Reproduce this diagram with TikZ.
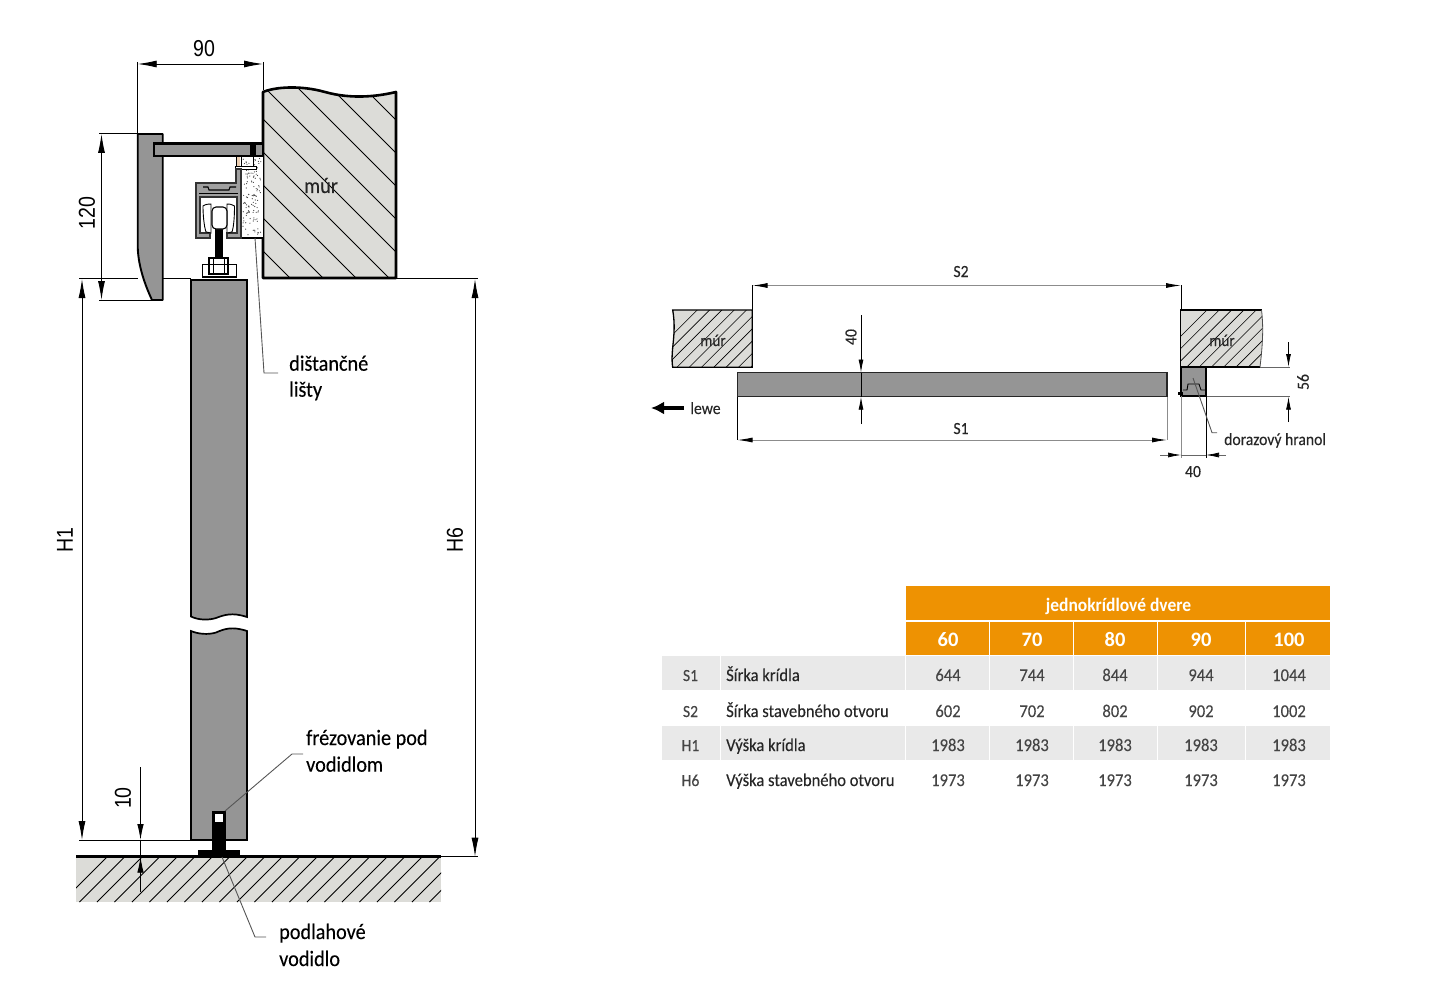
\documentclass[tikz,border=0pt]{standalone}
\usepackage{fontspec}
\setmainfont[FakeStretch=0.92]{Carlito}
\newfontfamily\lblfont[FakeStretch=0.92,FakeBold=0.2]{Carlito}
\newfontfamily\headfont{Carlito}
\newfontfamily\dimfont[FakeStretch=0.85]{Liberation Sans}
\usetikzlibrary{arrows.meta}
\definecolor{wall1}{HTML}{DCDCD8}
\definecolor{door1}{HTML}{959595}
\definecolor{orange1}{HTML}{EE9202}
\definecolor{row1}{HTML}{E9E9E9}
\definecolor{lead1}{HTML}{555555}
\definecolor{val1}{HTML}{454545}

\begin{document}
\begin{tikzpicture}[
    x=1pt, y=-1pt,
    dimline/.style={black, line width=0.9pt, {Latex[length=19pt,width=7pt]}-{Latex[length=19pt,width=7pt]}},
    dimone/.style={black, line width=0.9pt, -{Latex[length=16pt,width=6.5pt]}},
    extline/.style={black, line width=0.8pt},
    leadline/.style={lead1, line width=0.9pt},
    part/.style={draw=black, fill=door1, line width=1.9pt},
    lbl/.style={inner sep=0pt, anchor=base west, font=\lblfont\fontsize{22}{24}\selectfont, text=black},
    lblsmall/.style={inner sep=0pt, anchor=base, font=\lblfont\fontsize{17}{20}\selectfont, text=black!85},
    dimnum/.style={inner sep=0pt, font=\dimfont\fontsize{23}{24}\selectfont, text=black},
    headcell/.style={inner sep=0pt, anchor=base, font=\headfont\bfseries\fontsize{20.5}{22}\selectfont, text=white},
    valcell/.style={inner sep=0pt, anchor=base, font=\lblfont\fontsize{18}{20}\selectfont, text=val1},
    namecell/.style={inner sep=0pt, anchor=base west, font=\lblfont\fontsize{18}{20}\selectfont, text=black!85},
]
\useasboundingbox (0,0) rectangle (1439,995);

% wall, side view
\begin{scope}
\clip (263,92) .. controls (275,87) and (300,85) .. (325,92) .. controls (350,99) and (375,97) .. (396,92) -- (396,278) -- (263,278) -- cycle;
\fill[wall1] (250,80) rectangle (400,280);
\foreach \c in {-276,-243,-210,-177,-144,-111,-78,-45,-12}
    \draw[line width=0.9pt] (263,263+\c) -- (396,396+\c);
\end{scope}
\draw[line width=2.6pt, line join=round] (263,92) .. controls (275,87) and (300,85) .. (325,92) .. controls (350,99) and (375,97) .. (396,92) -- (396,278) -- (263,278) -- cycle;
\node[inner sep=0pt, anchor=base, font=\lblfont\fontsize{22}{24}\selectfont, text=black!85] (wallside) at (321,193) {múr};

% spacer strips
\fill[white] (241,156) rectangle (263,238);
\pgfmathsetseed{11}
\foreach \i in {1,...,120} {
    \pgfmathsetmacro\dotx{243+18*rnd}
    \pgfmathsetmacro\doty{158+78*rnd}
    \fill[black!75] (\dotx,\doty) circle (0.6);
}
\draw[line width=1.4pt] (241,238) -- (263,238);

% handle cover and bracket
\draw[part, line join=round] (137.7,134) -- (162.7,134) -- (162.7,300) -- (152,300) .. controls (145,285) and (137.7,265) .. (137.7,245) -- cycle;
\draw[part, line width=2.5pt] (154,143.5) rectangle (263,156);
\fill (250,142) rectangle (256,156);

% screw under bracket
\fill[black!25!orange!30] (237,157) rectangle (240,166);
\draw[line width=0.8pt] (236.5,157) -- (236.5,166) (241,157) -- (241,166);
\draw[line width=0.8pt, fill=white] (235,166) -- (256,166) -- (256,169) -- (235,169) -- cycle;
\draw[line width=0.8pt] (253,157) -- (253,166);

% rail
\draw[draw=black!80, fill=door1!90, line width=1.2pt] (196,183) -- (236,183) -- (236,169) -- (241,169) -- (241,238) -- (227,238) -- (227,233) -- (237,233) -- (237,197) -- (200,197) -- (200,233) -- (210,233) -- (210,238) -- (196,238) -- cycle;
\draw[line width=1.1pt] (203,187) -- (208,187) -- (209,190) -- (229,190) -- (230,187) -- (236,187);
\draw[line width=1.1pt] (199,193.5) -- (238,193.5);

% wheels
\draw[fill=white, line width=0.9pt] (203,206) .. controls (206,204) and (209,204) .. (211,204) -- (211,233) -- (206,232) .. controls (204,226) and (203,215) .. cycle;
\draw[fill=white, line width=0.9pt] (234.5,206) .. controls (231,204) and (229,204) .. (227,204) -- (227,233) -- (232,232) .. controls (234,226) and (234.5,215) .. cycle;
\fill (215,229) rectangle (223,259);
\draw[fill=white, line width=1.1pt, rounded corners=4pt] (212,207) rectangle (227,229);

% hanger bolt
\draw[line width=1.2pt] (209,258) rectangle (228,274);
\draw[line width=1.4pt] (202.5,264.5) rectangle (236.5,277);
\draw[line width=1pt] (213,258) -- (213,274) (224,258) -- (224,274);

% door, side view
\draw[part, line width=1.7pt] (191,280) -- (191,616.5) .. controls (198,620) and (208,620.5) .. (216,618) .. controls (224,615) and (232,612) .. (247,617) -- (247,280) -- cycle;
\draw[part, line width=1.7pt] (191,840) -- (191,631) .. controls (198,634) and (208,635) .. (216,632.5) .. controls (224,629) and (232,626) .. (247,631) -- (247,840) -- cycle;
\draw[line width=2.2pt] (190,840) -- (248,840);

% floor
\begin{scope}
\clip (76,857) rectangle (441,902);
\fill[wall1] (76,857) rectangle (441,902);
\foreach \c in {0,...,24}
    \draw[line width=0.8pt] (62+17.5*\c,902) -- (107+17.5*\c,857);
\end{scope}
\draw[line width=3.5pt] (76,856.7) -- (441,856.7);

% floor guide
\fill (212.3,811) rectangle (225.7,857);
\fill (198,850) rectangle (240,857);
\fill[white] (215,814) rectangle (223,822);

% dimensions, side view
\coordinate (d90a) at (137.7,64);
\coordinate (d90b) at (263,64);
\draw[extline] (137.7,62) -- (137.7,134) (263,62) -- (263,90);
\draw[dimline] (d90a) -- (d90b);
\node[dimnum] (n90) at (204,49) {90};

\coordinate (d120a) at (101.5,134);
\coordinate (d120b) at (101.5,300);
\draw[extline] (99,133.7) -- (138,133.7) (99,300) -- (152,300);
\draw[dimline] (d120a) -- (d120b);
\node[dimnum, rotate=90] (n120) at (87,213) {120};

\coordinate (dh1a) at (82,279);
\coordinate (dh1b) at (82,840);
\draw[extline] (79,278.8) -- (138,278.8) (163,278.8) -- (191,278.8) (79,840) -- (191,840);
\draw[dimline] (dh1a) -- (dh1b);
\node[dimnum, rotate=90] (nh1) at (65,540) {H1};

\coordinate (dh6a) at (475,279);
\coordinate (dh6b) at (475,856.7);
\draw[extline] (396,278.8) -- (478,278.8) (441,856.7) -- (478,856.7);
\draw[dimline] (dh6a) -- (dh6b);
\node[dimnum, rotate=90] (nh6) at (455,540) {H6};

\coordinate (d10a) at (140.5,767);
\coordinate (d10b) at (140.5,840);
\coordinate (d10c) at (140.5,892);
\coordinate (d10d) at (140.5,856.7);
\draw[dimone] (d10a) -- (d10b);
\draw[dimone] (d10c) -- (d10d);
\draw[extline] (d10b) -- (d10d);
\node[dimnum, rotate=90] (n10) at (123,798) {10};

% labels, side view
\node[lbl] (spacer1) at (289,370.7) {dištančné};
\node[lbl] (spacer2) at (289,396.7) {lišty};
\coordinate (spacerknee) at (264,373);
\coordinate (spacerend) at (278,373);
\coordinate (spacertip) at (255,238);
\draw[leadline] (spacertip) -- (spacerknee) -- (spacerend);

\node[lbl] (mill1) at (306,745) {frézovanie pod};
\node[lbl] (mill2) at (306,771.7) {vodidlom};
\coordinate (milltip) at (225,811);
\coordinate (millknee) at (292,754);
\coordinate (millend) at (303,754);
\draw[leadline] (milltip) -- (millknee) -- (millend);

\node[lbl] (guide1) at (279,939) {podlahové};
\node[lbl] (guide2) at (279,966) {vodidlo};
\coordinate (guidetip) at (222,857);
\coordinate (guideknee) at (255,937);
\coordinate (guideend) at (266,937);
\draw[leadline] (guidetip) -- (guideknee) -- (guideend);

% walls, plan view
\begin{scope}
\clip (672.7,310) -- (752.3,310) -- (752.3,367.3) -- (672.7,367.3) .. controls (670,350) and (677,335) .. cycle;
\fill[wall1] (665,305) rectangle (755,370);
\foreach \c in {0,...,10}
    \draw[line width=0.6pt] (640+12.3*\c,367.3) -- (697.3+12.3*\c,310);
\end{scope}
\draw[line width=1.3pt] (672.7,310) -- (752.3,310) -- (752.3,367.3) -- (672.7,367.3) .. controls (670,350) and (677,335) .. cycle;
\node[lblsmall, font=\lblfont\fontsize{16.5}{18}\selectfont] (wallleft) at (713,346) {múr};

\begin{scope}
\clip (1180.7,310) -- (1261.5,310) .. controls (1264,330) and (1262,350) .. (1260,367) -- (1180.7,367) -- cycle;
\fill[wall1] (1175,305) rectangle (1265,370);
\foreach \c in {0,...,10}
    \draw[line width=0.6pt] (1150+12.3*\c,367) -- (1207+12.3*\c,310);
\end{scope}
\draw[line width=1.3pt] (1260,367) -- (1180.7,367) -- (1180.7,310) -- (1261.5,310);
\draw[black!70, line width=0.8pt] (1261.5,310) .. controls (1264,330) and (1262,350) .. (1260,367);
\node[lblsmall, font=\lblfont\fontsize{16.5}{18}\selectfont] (wallright) at (1222,346) {múr};

% door leaf and stop block, plan view
\draw[draw=black!85, fill=door1, line width=1.1pt] (737.5,372.5) rectangle (1167,396.7);
\draw[draw=black, fill=door1, line width=1.3pt] (1181,367) rectangle (1206,396);
\draw[line width=0.9pt] (1183,390) -- (1187,390) -- (1188,384) -- (1199,384) -- (1201,390) -- (1205,390);
\fill (1178,392) rectangle (1182.5,395);

% dimensions, plan view
\coordinate (ds2a) at (752.5,285.5);
\coordinate (ds2b) at (1181,285.5);
\draw[extline] (752.5,285) -- (752.5,310) (1181,285) -- (1181,310);
\draw[black!45, line width=0.9pt, {Latex[length=15pt,width=5pt,black]}-{Latex[length=15pt,width=5pt,black]}] (ds2a) -- (ds2b);
\node[lblsmall] (ns2) at (961,277) {S2};

\coordinate (ds1a) at (737.5,440);
\coordinate (ds1b) at (1167,440);
\draw[extline] (737.5,397) -- (737.5,440);
\draw[black!45, line width=0.8pt] (1167,397) -- (1167,440);
\draw[black!45, line width=0.9pt, {Latex[length=15pt,width=5pt,black]}-{Latex[length=15pt,width=5pt,black]}] (ds1a) -- (ds1b);
\node[lblsmall] (ns1) at (961,434) {S1};

\coordinate (d40a) at (861,315);
\coordinate (d40b) at (861,372.5);
\coordinate (d40c) at (861,424);
\coordinate (d40d) at (861,396.7);
\draw[black, line width=0.8pt, -{Latex[length=13pt,width=5pt]}] (d40a) -- (d40b);
\draw[black, line width=0.8pt, -{Latex[length=13pt,width=5pt]}] (d40c) -- (d40d);
\draw[extline] (d40b) -- (d40d);
\node[inner sep=0pt, font=\lblfont\fontsize{17}{20}\selectfont, text=black!85, rotate=90] (n40v) at (851,337) {40};

\coordinate (d56a) at (1288.5,342);
\coordinate (d56b) at (1288.5,367);
\coordinate (d56c) at (1288.5,422);
\coordinate (d56d) at (1288.5,396.7);
\draw[black!60, line width=0.7pt] (1260,367) -- (1290,367) (1206,396.7) -- (1290,396.7);
\draw[black, line width=0.8pt, -{Latex[length=13pt,width=5pt]}] (d56a) -- (d56b);
\draw[black, line width=0.8pt, -{Latex[length=13pt,width=5pt]}] (d56c) -- (d56d);
\node[inner sep=0pt, font=\lblfont\fontsize{17}{20}\selectfont, text=black!85, rotate=90] (n56) at (1303,382) {56};

\coordinate (d40e) at (1160,455);
\coordinate (d40f) at (1181,455);
\coordinate (d40g) at (1226,455);
\coordinate (d40h) at (1206,455);
\draw[black!45, line width=0.8pt] (1181,396) -- (1181,458);
\draw[black, line width=0.9pt] (1206,396) -- (1206,458);
\draw[black!60, line width=0.7pt, -{Latex[length=13pt,width=5pt,black]}] (d40e) -- (d40f);
\draw[black!60, line width=0.7pt, -{Latex[length=13pt,width=5pt,black]}] (d40g) -- (d40h);
\draw[black!60, line width=0.7pt] (d40f) -- (d40h);
\node[lblsmall] (n40h) at (1193,477) {40};

\node[lblsmall, anchor=base west] (stoplbl) at (1224,445) {dorazový hranol};
\coordinate (stoptip) at (1193,378);
\coordinate (stopknee) at (1212,432.7);
\coordinate (stopend) at (1217,432.7);
\draw[leadline] (stoptip) -- (stopknee) -- (stopend);

% direction arrow
\coordinate (arrowa) at (684,408);
\coordinate (arrowb) at (651,408);
\draw[line width=4.2pt, -{Latex[length=13pt,width=13pt]}] (arrowa) -- (arrowb);
\node[lblsmall] (lewelbl) at (705.5,414) {lewe};

% table
\fill[orange1] (906,586) rectangle (1330,620);
\fill[orange1] (906,622) rectangle (1330,655);
\fill[row1] (662,656) rectangle (1330,690);
\fill[row1] (662,726) rectangle (1330,760);
\foreach \x in {720,905,989,1073,1157,1245} {
    \draw[white, line width=0.9pt] (\x,656) -- (\x,690) (\x,726) -- (\x,760);
}
\foreach \x in {989,1073,1157,1245}
    \draw[white, line width=0.9pt] (\x,621) -- (\x,655);

\node[headcell, font=\bfseries\fontsize{19}{22}\selectfont] (tabhead) at (1118.5,611.5) {jednokrídlové dvere};
\foreach \x/\t in {948/60,1032/70,1115/80,1201/90,1289/100}
    \node[headcell] (h\t) at (\x,646) {\t};

\foreach \y/\k/\d in {681/S1/Šírka krídla,717/S2/Šírka stavebného otvoru,751/H1/Výška krídla,786/H6/Výška stavebného otvoru} {
    \node[valcell, font=\lblfont\fontsize{17}{20}\selectfont] (k\k) at (690.5,\y) {\k};
    \node[namecell] (d\k) at (726,\y) {\d};
}
\foreach \x/\a/\b/\c/\e in {948/644/602/1983/1973,1032/744/702/1983/1973,1115/844/802/1983/1973,1201/944/902/1983/1973,1289/1044/1002/1983/1973} {
    \node[valcell] (va\x) at (\x,681) {\a};
    \node[valcell] (vb\x) at (\x,717) {\b};
    \node[valcell] (vc\x) at (\x,751) {\c};
    \node[valcell] (ve\x) at (\x,786) {\e};
}
\end{tikzpicture}
\end{document}
